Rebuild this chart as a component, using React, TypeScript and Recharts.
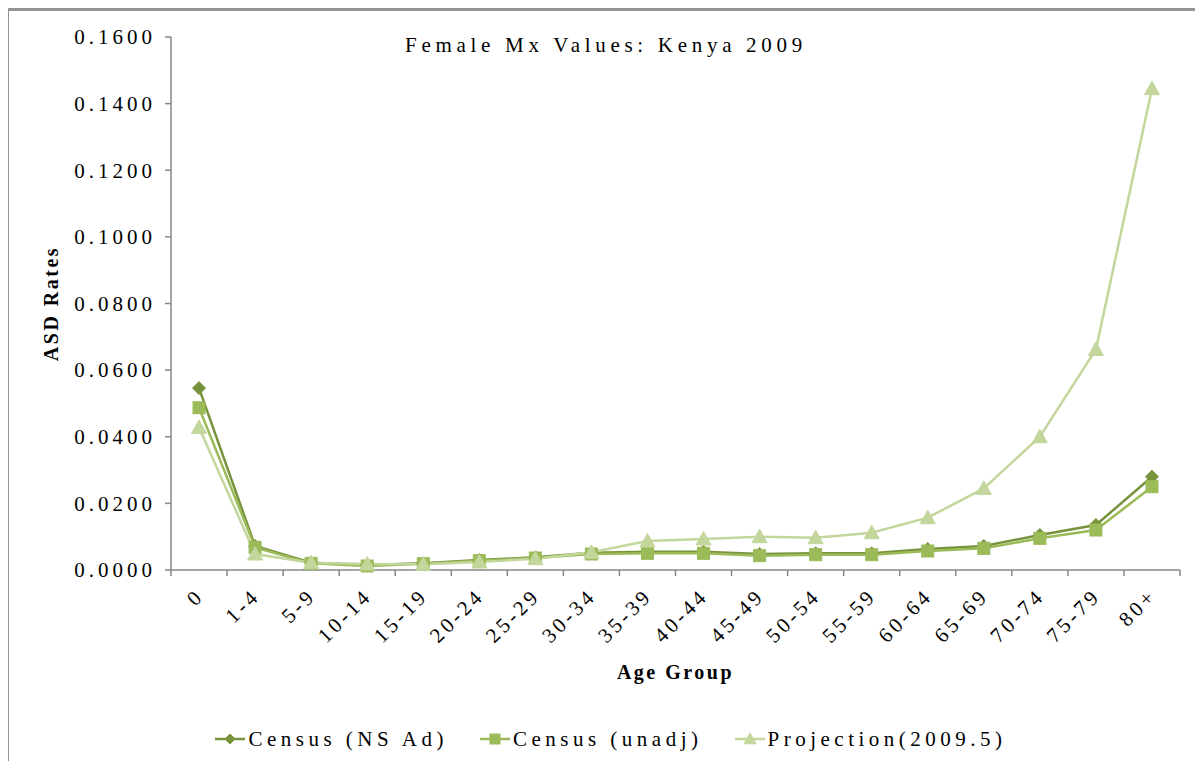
import React from 'react';
import { LineChart, Line, XAxis, YAxis, Legend } from 'recharts';

const ageGroups = ['0', '1-4', '5-9', '10-14', '15-19', '20-24', '25-29', '30-34', '35-39', '40-44', '45-49', '50-54', '55-59', '60-64', '65-69', '70-74', '75-79', '80+'];
const censusNsAd = [0.0546, 0.0072, 0.0022, 0.0015, 0.0020, 0.0030, 0.0038, 0.0052, 0.0055, 0.0055, 0.0048, 0.0050, 0.0050, 0.0063, 0.0072, 0.0105, 0.0135, 0.0280];
const censusUnadj = [0.0487, 0.0068, 0.0020, 0.0012, 0.0019, 0.0028, 0.0036, 0.0048, 0.0050, 0.0050, 0.0043, 0.0046, 0.0046, 0.0057, 0.0065, 0.0095, 0.0120, 0.0250];
const projection = [0.0428, 0.0048, 0.0022, 0.0018, 0.0017, 0.0024, 0.0034, 0.0053, 0.0087, 0.0093, 0.0100, 0.0097, 0.0112, 0.0157, 0.0245, 0.0400, 0.0662, 0.1445];
const yTicks = [0, 0.02, 0.04, 0.06, 0.08, 0.1, 0.12, 0.14, 0.16];

const data = ageGroups.map((g, i) => ({ age: g, ns: censusNsAd[i], unadj: censusUnadj[i], proj: projection[i] }));

const W = 1203;
const H = 769;
const FONT = "'Liberation Serif', 'Times New Roman', serif";
const C_NS = '#77933C';
const C_UN = '#9BBB59';
const C_PR = '#C3D69B';
const AXIS = '#868686';
const PLOT_LEFT = 171;
const PLOT_RIGHT = 1180;
const BAND = (PLOT_RIGHT - PLOT_LEFT) / ageGroups.length;

const Diamond = ({ cx, cy, size = 6, color }: any) => (
  <polygon points={`${cx},${cy - size} ${cx + size},${cy} ${cx},${cy + size} ${cx - size},${cy}`} fill={color} stroke={color} strokeWidth={1} />
);
const Square = ({ cx, cy, size = 5, color }: any) => (
  <rect x={cx - size} y={cy - size} width={size * 2} height={size * 2} fill={color} stroke={color} strokeWidth={1} />
);
const Triangle = ({ cx, cy, size = 6.5, color }: any) => (
  <polygon points={`${cx},${cy - size} ${cx + size},${cy + size * 0.8} ${cx - size},${cy + size * 0.8}`} fill={color} stroke={color} strokeWidth={1} />
);

const XTick = (props: any) => {
  const { x, y, payload, index } = props;
  return (
    <g>
      <line x1={x - BAND / 2} y1={y} x2={x - BAND / 2} y2={y + 6} stroke={AXIS} strokeWidth={1.5} />
      {index === ageGroups.length - 1 && (
        <line x1={x + BAND / 2} y1={y} x2={x + BAND / 2} y2={y + 6} stroke={AXIS} strokeWidth={1.5} />
      )}
      <text
        x={0}
        y={0}
        transform={`translate(${x + 6},${y + 27}) rotate(-45)`}
        textAnchor="end"
        fontFamily={FONT}
        fontSize={21}
        letterSpacing={3.5}
        fill="#000"
      >
        {payload.value}
      </text>
    </g>
  );
};

const YTick = (props: any) => {
  const { x, y, payload } = props;
  return (
    <text x={x} y={y} dy="0.35em" textAnchor="end" fontFamily={FONT} fontSize={21} letterSpacing={4} fill="#000">
      {payload.value.toFixed(4)}
    </text>
  );
};

const YLabel = (props: any) => {
  const vb = props.viewBox || { x: 11, y: 37, width: 160, height: 533 };
  const cx = vb.x + 40;
  const cy = vb.y + vb.height / 2;
  return (
    <text x={cx} y={cy} transform={`rotate(-90 ${cx} ${cy})`} textAnchor="middle" dy="0.35em" fontFamily={FONT} fontSize={20} fontWeight="bold" letterSpacing={2.5} fill="#000">
      ASD Rates
    </text>
  );
};

const XLabel = (props: any) => {
  const vb = props.viewBox || { x: 171, y: 570, width: 1009, height: 153 };
  const cx = vb.x + vb.width / 2;
  return (
    <text x={cx} y={vb.y + 102} textAnchor="middle" dy="0.35em" fontFamily={FONT} fontSize={20} fontWeight="bold" letterSpacing={2.5} fill="#000">
      Age Group
    </text>
  );
};

const legendItems = [
  { name: 'Census (NS Ad)', color: C_NS, Marker: Diamond, msize: 5 },
  { name: 'Census (unadj)', color: C_UN, Marker: Square, msize: 5 },
  { name: 'Projection(2009.5)', color: C_PR, Marker: Triangle, msize: 6 },
];

const LegendContent = () => (
  <div style={{ display: 'flex', justifyContent: 'center', alignItems: 'center', height: 32, paddingLeft: 31, gap: 32 }}>
    {legendItems.map((it) => (
      <div key={it.name} style={{ display: 'flex', alignItems: 'center' }}>
        <svg width={30} height={20} style={{ marginRight: 3 }}>
          <line x1={0} y1={10} x2={30} y2={10} stroke={it.color} strokeWidth={2.5} />
          <it.Marker cx={15} cy={10} size={it.msize} color={it.color} />
        </svg>
        <span style={{ fontFamily: FONT, fontSize: 21, letterSpacing: 4.5, color: '#000', whiteSpace: 'nowrap' }}>{it.name}</span>
      </div>
    ))}
  </div>
);

export default function App() {
  return (
    <div style={{ position: 'relative', width: W, height: H, margin: -8, background: '#fff', overflow: 'hidden' }}>
      <div style={{ position: 'absolute', left: 6, top: 8, width: W, height: H, borderTop: '3px solid #939393', borderLeft: '3px solid #939393', boxSizing: 'border-box' }} />
      <div style={{ position: 'absolute', left: 0, width: 1212, top: 33, textAlign: 'center', fontFamily: FONT, fontSize: 21, letterSpacing: 4.7, color: '#000', whiteSpace: 'nowrap' }}>
        Female Mx Values: Kenya 2009
      </div>
      <LineChart width={W} height={H} data={data} margin={{ top: 37, right: 23, left: 11, bottom: 14 }}>
        <XAxis
          dataKey="age"
          height={153}
          tickSize={0}
          tickMargin={0}
          interval={0}
          padding={{ left: BAND / 2, right: BAND / 2 }}
          stroke={AXIS}
          strokeWidth={1.5}
          tick={<XTick />}
          label={<XLabel />}
        />
        <YAxis
          width={160}
          domain={[0, 0.16]}
          ticks={yTicks}
          tickSize={6}
          tickMargin={9}
          stroke={AXIS}
          strokeWidth={1.5}
          tick={<YTick />}
          label={<YLabel />}
        />
        <Legend verticalAlign="bottom" content={<LegendContent />} />
        <Line dataKey="ns" name="Census (NS Ad)" stroke={C_NS} strokeWidth={2.5} isAnimationActive={false}
          dot={(p: any) => <Diamond key={`d${p.index}`} cx={p.cx} cy={p.cy} size={6.5} color={C_NS} />} />
        <Line dataKey="unadj" name="Census (unadj)" stroke={C_UN} strokeWidth={2.5} isAnimationActive={false}
          dot={(p: any) => <Square key={`s${p.index}`} cx={p.cx} cy={p.cy} size={6} color={C_UN} />} />
        <Line dataKey="proj" name="Projection(2009.5)" stroke={C_PR} strokeWidth={2.5} isAnimationActive={false}
          dot={(p: any) => <Triangle key={`t${p.index}`} cx={p.cx} cy={p.cy} size={7.5} color={C_PR} />} />
      </LineChart>
    </div>
  );
}
